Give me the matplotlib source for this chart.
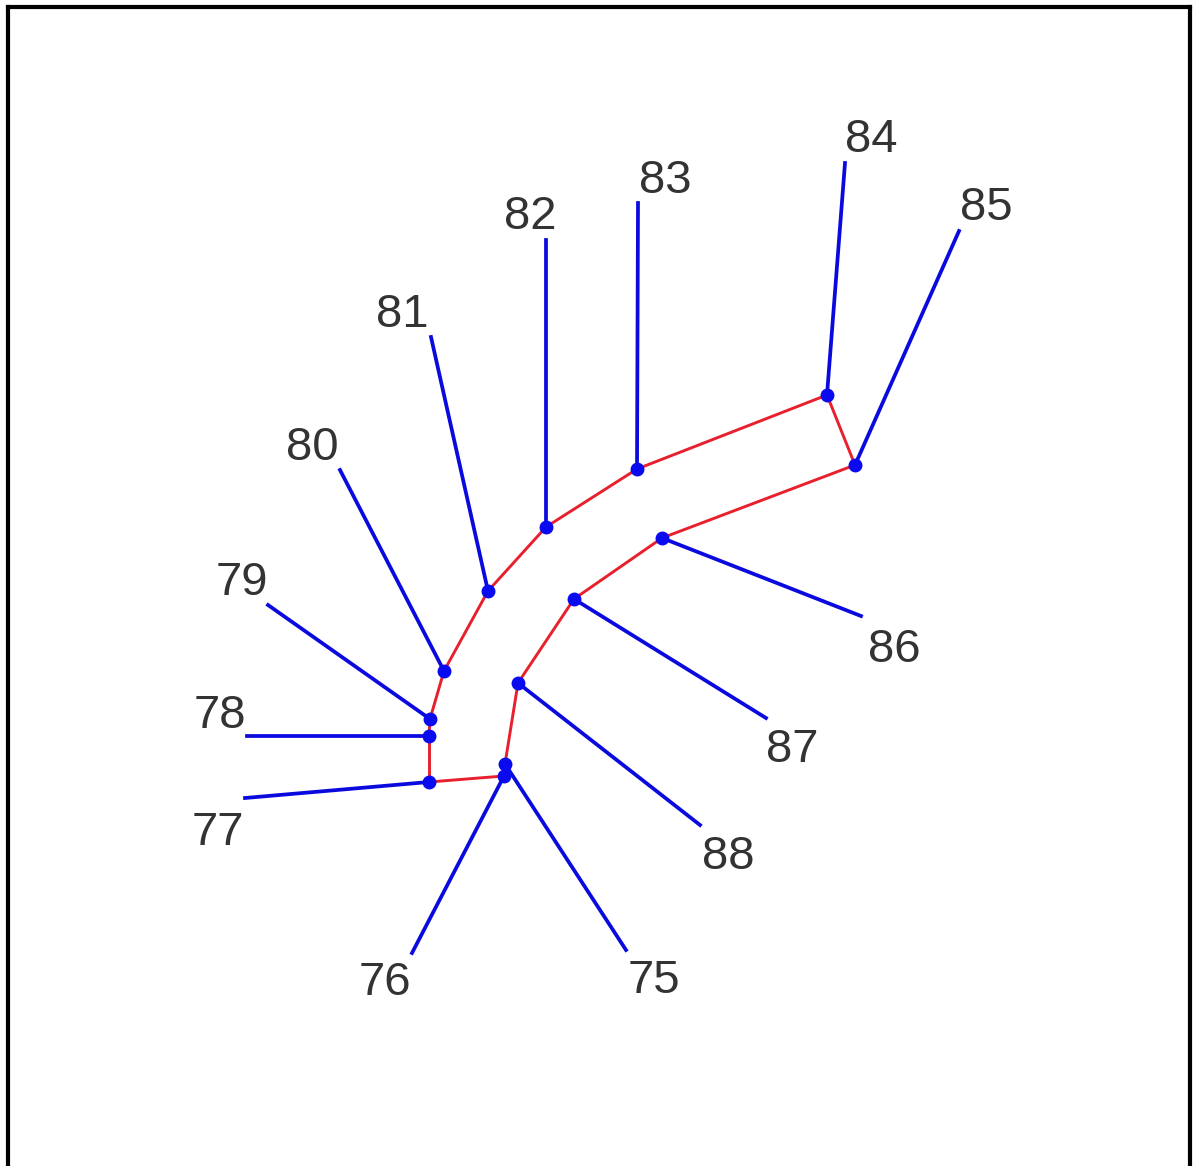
import matplotlib.pyplot as plt

# inner nodes of the tree (x, y in picture units, y grows downwards)
node_x = [429, 429, 430, 444, 488, 546, 637, 827, 855, 662, 574, 518, 505, 504]
node_y = [782, 736, 719, 671, 591, 527, 469, 395, 465, 538, 599, 683, 764, 776]

# internal (red) branches between inner nodes
inner_edges = [(0, 1), (1, 2), (2, 3), (3, 4), (4, 5), (5, 6), (6, 7), (7, 8),
               (8, 9), (9, 10), (10, 11), (11, 12), (12, 13), (13, 0)]

# leaves: name, parent node, end point, label position (baseline)
leaf_names = ["77", "78", "79", "80", "81", "82", "83", "84", "85", "86", "87", "88", "75", "76"]
leaf_parent = [0, 1, 2, 3, 4, 5, 6, 7, 8, 9, 10, 11, 12, 13]
leaf_x = [245, 247, 268, 340, 431, 546, 638, 845, 959, 861, 766, 700, 626, 412]
leaf_y = [798, 736, 605, 470, 337, 240, 203, 163, 231, 616, 718, 825, 950, 953]
label_x = [218, 220, 242, 312, 402, 530, 665, 871, 986, 894, 792, 728, 654, 385]
label_y = [845, 728, 595, 460, 327, 229, 193, 152, 220, 662, 762, 869, 993, 995]

fig = plt.figure(figsize=(11.95, 11.66), dpi=100)
ax = fig.add_axes([8 / 1195, -20 / 1166, (1190 - 8) / 1195, (1166 + 20 - 7) / 1166])
ax.set_xlim(8, 1190)
ax.set_ylim(1186, 7)
ax.set_xticks([])
ax.set_yticks([])
for s in ax.spines.values():
    s.set_linewidth(3)
    s.set_color("black")

for a, b in inner_edges:
    ax.plot([node_x[a], node_x[b]], [node_y[a], node_y[b]], color="#e8202e", lw=2.1, zorder=2)

for i, name in enumerate(leaf_names):
    p = leaf_parent[i]
    ax.plot([node_x[p], leaf_x[i]], [node_y[p], leaf_y[i]], color="#0a0adf", lw=2.7, zorder=3)
    ax.text(label_x[i], label_y[i], name, ha="center", va="baseline",
            fontsize=34, color="#333333", family="Liberation Sans")

ax.plot(node_x, node_y, "o", color="#0a0aef", ms=9, zorder=4)

fig.savefig("out.png", dpi=100)
